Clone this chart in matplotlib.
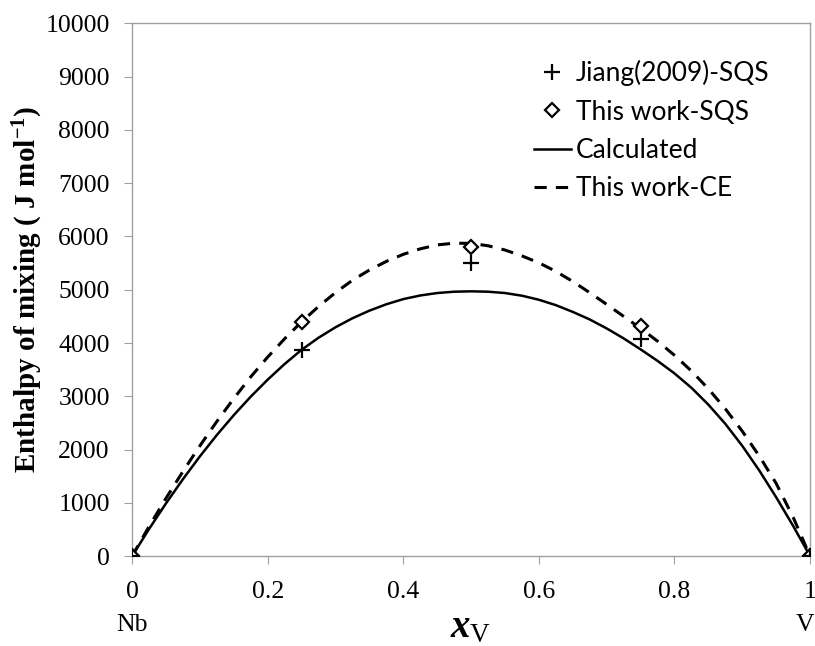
import numpy as np
import matplotlib.pyplot as plt

plt.rcParams['mathtext.fontset'] = 'custom'
plt.rcParams['mathtext.rm'] = 'Liberation Serif'
plt.rcParams['mathtext.it'] = 'Liberation Serif:italic:bold'
plt.rcParams['mathtext.bf'] = 'Liberation Serif:bold'

# SQS points
x_pts = [0, 0.25, 0.5, 0.75, 1]
jiang = [0, 3875, 5500, 4080, 0]
this_sqs = [0, 4390, 5800, 4320, 0]

# curves every 0.025 in x_V
x_curve = np.linspace(0, 1, 41)
calc = [0, 508, 990, 1444, 1872, 2273, 2646, 2993, 3312, 3606,
        3872, 4099, 4295, 4464, 4607, 4727, 4824, 4892, 4938, 4963,
        4970, 4963, 4938, 4888, 4812, 4711, 4584, 4442, 4274, 4087,
        3881, 3665, 3430, 3160, 2843, 2483, 2070, 1609, 1105, 568, 0]
ce = [0, 556, 1085, 1589, 2070, 2527, 2958, 3364, 3736, 4080,
      4397, 4685, 4946, 5177, 5369, 5531, 5664, 5767, 5841, 5873,
      5870, 5825, 5745, 5635, 5505, 5345, 5155, 4945, 4725, 4500,
      4275, 4035, 3770, 3475, 3140, 2765, 2345, 1880, 1365, 730, 0]

fig = plt.figure(figsize=(8.15, 6.46), dpi=100)
ax = fig.add_axes([0.162, 0.139, 0.832, 0.825])

ax.plot(x_pts, jiang, 'k+', ms=11, mew=1.6, ls='none', label='Jiang(2009)-SQS', zorder=4)
ax.plot(x_pts, this_sqs, 'D', ms=7, mfc='white', mec='k', mew=1.6, ls='none',
        label='This work-SQS', zorder=3)
ax.plot(x_curve, calc, 'k-', lw=1.8, label='Calculated')
ax.plot(x_curve, ce, 'k--', lw=2.2, dashes=(4, 3), label='This work-CE')

ax.set_xlim(0, 1)
ax.set_ylim(0, 10000)
ax.set_xticks([0, 0.2, 0.4, 0.6, 0.8, 1])
ax.set_xticklabels(['0', '0.2', '0.4', '0.6', '0.8', '1'])
ax.set_yticks(np.arange(0, 10001, 1000))
for lab in ax.get_xticklabels() + ax.get_yticklabels():
    lab.set_fontfamily('Liberation Serif')
    lab.set_fontsize(18.5)
ax.tick_params(axis='both', direction='out', length=6, color='#a0a0a0', pad=12)
ax.tick_params(axis='y', pad=10)
for s in ax.spines.values():
    s.set_color('#a0a0a0')
    s.set_linewidth(1.0)

ax.set_ylabel(r'$\mathbf{Enthalpy\ of\ mixing\ (\ J\ mol^{-1})}$', fontsize=21, labelpad=0)
ax.set_xlabel(r'$x_{\mathrm{V}}$', fontsize=28, labelpad=2)

ax.text(0, -0.13, 'Nb', transform=ax.get_xaxis_transform(), ha='center', va='center',
        fontsize=18.5, family='Liberation Serif')
ax.text(0.993, -0.13, 'V', transform=ax.get_xaxis_transform(), ha='center', va='center',
        fontsize=18.5, family='Liberation Serif')

leg = ax.legend(loc='upper right', bbox_to_anchor=(0.975, 0.975), frameon=False,
                prop={'family': 'Lato', 'size': 19}, handlelength=1.4,
                handletextpad=0.2, labelspacing=0.5)

fig.savefig('out.png', dpi=100)
